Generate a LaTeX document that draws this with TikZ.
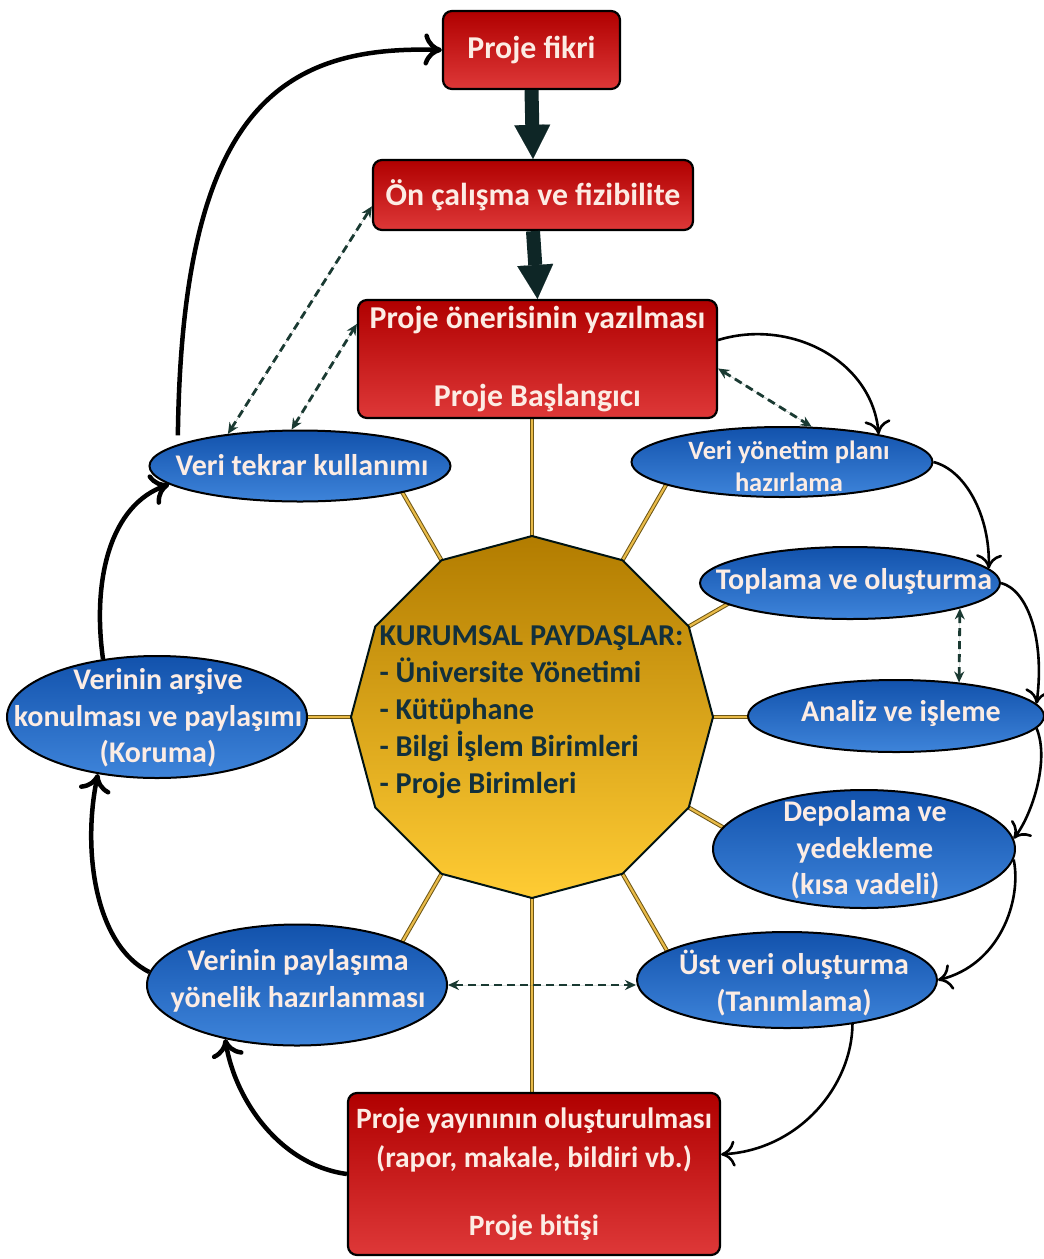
\documentclass[tikz,border=0pt]{standalone}
\usepackage{fontspec}
\setmainfont{Carlito}
\usetikzlibrary{arrows.meta,shapes.geometric,backgrounds}

\definecolor{boxtop}{RGB}{176,0,0}
\definecolor{boxbot}{RGB}{222,56,56}
\definecolor{elltop}{RGB}{18,82,172}
\definecolor{ellbot}{RGB}{62,132,218}
\definecolor{hubtop}{RGB}{178,124,0}
\definecolor{hubbot}{RGB}{255,204,52}
\definecolor{lighttext}{RGB}{252,236,228}
\definecolor{hubtext}{RGB}{18,48,60}
\definecolor{darkarrow}{RGB}{14,38,38}
\definecolor{dashcol}{RGB}{26,58,50}
\definecolor{spokeout}{RGB}{110,86,20}
\definecolor{spokein}{RGB}{232,186,72}

\begin{document}
\begin{tikzpicture}[x=1pt,y=-1pt,
  redbox/.style={draw=black, line width=2.2pt, rounded corners=9pt,
    top color=boxtop, bottom color=boxbot, text=lighttext,
    font=\bfseries\fontsize{31.8}{38}\selectfont, align=center, inner sep=0pt},
  blueell/.style={ellipse, draw=black, line width=2pt, inner sep=0pt,
    top color=elltop, bottom color=ellbot},
  elltext/.style={text=lighttext, align=center, inner sep=0pt,
    font=\bfseries\fontsize{30}{36.5}\selectfont},
  hubshape/.style={draw=black!85!teal, line width=2pt, top color=hubtop, bottom color=hubbot},
  spoke/.style={draw=spokeout, line width=1pt, double=spokein, double distance=2.2pt},
  bigarrow/.style={draw=darkarrow, line width=14pt,
    -{Triangle[length=34pt,width=36pt,line width=0.1pt]}},
  flowthick/.style={line width=4.5pt, -{Computer Modern Rightarrow[length=18pt,width=32pt]}},
  flowthin/.style={line width=2.6pt, -{Computer Modern Rightarrow[length=14pt,width=26pt]}},
  dashboth/.style={draw=dashcol, fill=dashcol, line width=2.8pt, dash pattern=on 8pt off 5pt,
    {Stealth[length=11pt,width=10pt]}-{Stealth[length=11pt,width=10pt]}}
]
\useasboundingbox (0,0) rectangle (1044,1259);

% --- project stages (red boxes) ---
\node[redbox, minimum width=177pt, minimum height=78pt] (fikri) at (531.5,50) {Proje fikri};
\node[redbox, minimum width=320pt, minimum height=70pt] (onc) at (533,195) {Ön çalışma ve fizibilite};
\node[redbox, minimum width=359pt, minimum height=118pt] (oneri) at (537.5,359)
  {Proje önerisinin yazılması\\[40pt]Proje Başlangıcı};
\node[redbox, minimum width=372pt, minimum height=162pt,
  font=\bfseries\fontsize{29.5}{39}\selectfont] (yayin) at (534,1174)
  {Proje yayınının oluşturulması\\(rapor, makale, bildiri vb.)\\[29pt]Proje bitişi};

% --- central stakeholders polygon ---
\coordinate (hub) at (532,717);
\foreach \a in {0,30,...,330} {
  \path (hub) ++(-\a:181) coordinate (v\a);
}
\path (hub) ++(-90:305) coordinate (e90);
\path (hub) ++(90:385) coordinate (e270);
\foreach \a in {0,30,60,120,180,240,300,330} {
  \path (hub) ++(-\a:281) coordinate (e\a);
}
\draw[hubshape] (v0) -- (v30) -- (v60) -- (v90) -- (v120) -- (v150) -- (v180)
  -- (v210) -- (v240) -- (v270) -- (v300) -- (v330) -- cycle;
\node[text=hubtext, align=left, inner sep=0pt,
  font=\bfseries\fontsize{30.3}{37}\selectfont] (kurum) at (531.5,712)
  {KURUMSAL PAYDAŞLAR:\\- Üniversite Yönetimi\\- Kütüphane\\- Bilgi İşlem Birimleri\\- Proje Birimleri};

% --- data life-cycle steps (blue ellipses) ---
\node[blueell, minimum width=301pt, minimum height=71pt] (tekrar) at (300,466) {};
\node[elltext] (tekrar-t) at (302,465) {Veri tekrar kullanımı};
\node[blueell, minimum width=301pt, minimum height=70pt] (yonetim) at (782,462) {};
\node[elltext, font=\bfseries\fontsize{26.5}{32}\selectfont] (yonetim-t) at (789,466) {Veri yönetim planı\\hazırlama};
\node[blueell, minimum width=300pt, minimum height=72pt] (toplama) at (850,583) {};
\node[elltext] (toplama-t) at (854,581) {Toplama ve oluşturma};
\node[blueell, minimum width=296pt, minimum height=72pt] (analiz) at (896,716) {};
\node[elltext] (analiz-t) at (901,713) {Analiz ve işleme};
\node[blueell, minimum width=302pt, minimum height=118pt] (depolama) at (864,849) {};
\node[elltext] (depolama-t) at (865,850) {Depolama ve\\yedekleme\\(kısa vadeli)};
\node[blueell, minimum width=300pt, minimum height=96pt] (ustveri) at (787,980) {};
\node[elltext] (ustveri-t) at (794,983) {Üst veri oluşturma\\(Tanımlama)};
\node[blueell, minimum width=300pt, minimum height=121pt] (paylasima) at (297,985) {};
\node[elltext] (paylasima-t) at (298,981) {Verinin paylaşıma\\yönelik hazırlanması};
\node[blueell, minimum width=300pt, minimum height=122pt] (arsiv) at (157,717) {};
\node[elltext] (arsiv-t) at (158,718) {Verinin arşive\\konulması ve paylaşımı\\(Koruma)};

% --- white page and spokes from the polygon corners, behind everything ---
\begin{scope}[on background layer]
  \fill[white] (0,0) rectangle (1044,1259);
  \foreach \a in {0,30,60,90,120,180,240,270,300,330} {
    \draw[spoke] (v\a) -- (e\a);
  }
\end{scope}

% --- main sequence arrows ---
\draw[bigarrow] (fikri.south) -- (onc.north);
\draw[bigarrow] (onc.south) -- (oneri.north);

% --- cycle arrows (thick, left side) ---
\draw[flowthick, shorten <=9pt] (tekrar.170) .. controls (182,110) and (280,45) .. (fikri.west);
\draw[flowthick] (arsiv.133) .. controls (92,580) and (110,505) .. (tekrar.188);
\draw[flowthick] (paylasima.175) .. controls (95,945) and (82,850) .. (arsiv.224);
\draw[flowthick] (yayin.west) .. controls (280,1165) and (235,1100) .. (paylasima.217);

% --- cycle arrows (thin, right side) ---
\draw[flowthin] (oneri.6) .. controls (790,318) and (872,360) .. (yonetim.16);
\draw[flowthin] (yonetim.east) .. controls (965,470) and (990,515) .. (toplama.6);
\draw[flowthin] (toplama.east) .. controls (1028,590) and (1045,640) .. (analiz.5);
\draw[flowthin] (analiz.-5) .. controls (1050,760) and (1032,815) .. (depolama.4);
\draw[flowthin] (depolama.-4) .. controls (1022,900) and (1000,965) .. (ustveri.east);
\draw[flowthin] (ustveri.-34) .. controls (852,1085) and (800,1150) .. (yayin.6);

% --- two-way (dashed) links ---
\draw[dashboth] (tekrar.156) -- (onc.184);
\draw[dashboth] (tekrar.103) -- (oneri.169);
\draw[dashboth] (oneri.-3) -- (yonetim.50);
\draw[dashboth] (toplama.-13) -- (analiz.28);
\draw[dashboth] (paylasima.east) -- (paylasima.east -| ustveri.west);
\end{tikzpicture}
\end{document}
